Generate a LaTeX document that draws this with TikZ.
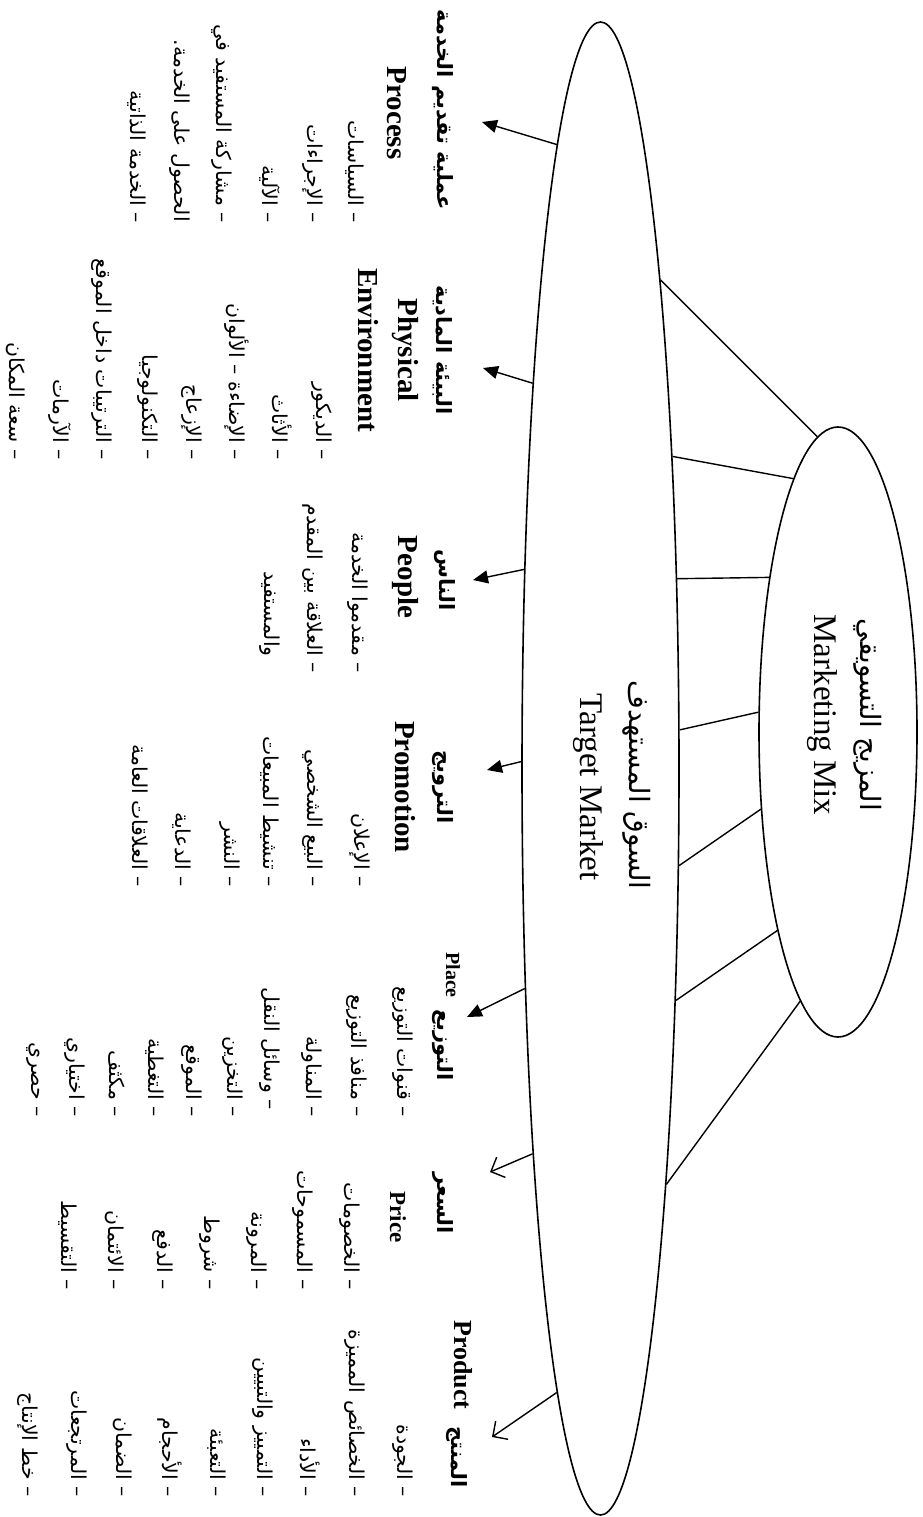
\documentclass[tikz,border=0pt]{standalone}
\usepackage{fontspec}
\setmainfont{Liberation Serif}
\newfontfamily\arabicfont[Script=Arabic]{DejaVu Sans}
\usetikzlibrary{shapes.geometric,arrows.meta}
\TeXXeTstate=1
\newcommand\itemfont{\arabicfont\fontsize{20.5}{24}\selectfont}
\newcommand\headfont{\arabicfont\bfseries\fontsize{21}{25}\selectfont}
\newcommand\ehfont{\bfseries\fontsize{29}{33}\selectfont}
\newcommand\cenfont{\fontsize{33}{38}\selectfont}
\newcommand\cenar{\arabicfont\fontsize{28}{32}\selectfont}
\tikzset{
  ell/.style={draw, ellipse, line width=1.6pt, inner sep=0pt},
  con/.style={line width=1.4pt},
  arrF/.style={line width=1.4pt, -{Triangle[length=15pt,width=13pt]}},
  arrO/.style={line width=1.4pt, -{Straight Barb[length=11pt,width=22pt]}},
  rt/.style={rotate=-90, inner sep=0pt},
  item/.style={rt, anchor=east, font=\itemfont},
  head/.style={rt, font=\headfont},
  ehead/.style={rt, font=\ehfont},
}
\begin{document}
\begin{tikzpicture}[x=1pt,y=-1pt]
\useasboundingbox (0,0) rectangle (923,1517);
% ellipses
\node[ell, minimum width=157pt, minimum height=1493pt] (tm) at (600.5,768.5) {};
\node[ell, minimum width=158pt, minimum height=610pt] (mm) at (838,732) {};
\node[rt, font=\cenar] (tmA) at (637,785) {\beginR السوق المستهدف\endR};
\node[rt, font=\cenfont] (tmE) at (588,787) {Target Market};
\node[rt, font=\cenar] (mmA) at (868,715) {\beginR المزيج التسويقي\endR};
\node[rt, font=\cenfont] (mmE) at (822,715) {Marketing Mix};
% connectors between ellipses
\draw[con] (tm.83.02) -- (mm.94.3);
\draw[con] (tm.77.98) -- (mm.100.01);
\draw[con] (tm.68.16) -- (mm.114.07);
\draw[con] (tm.26.15) -- (mm.166.45);
\draw[con] (tm.-51.69) -- (mm.-135.19);
\draw[con] (tm.-72.68) -- (mm.-107.59);
\draw[con] (tm.-81.11) -- (mm.-98.01);
% arrow tips
\coordinate (tProc) at (482,122);
\coordinate (tPhys) at (483,368);
\coordinate (tPeop) at (473,580);
\coordinate (tProm) at (487,770);
\coordinate (tPlac) at (467,1017);
\coordinate (tPric) at (490,1172);
\coordinate (tProd) at (492,1437);
\draw[arrF] (tm.94.69) -- (tProc);
\draw[arrF] (tm.100.03) -- (tPhys);
\draw[arrF] (tm.111.95) -- (tPeop);
\draw[arrF] (tm.175.99) -- (tProm);
\draw[arrF] (tm.-109.78) -- (tPlac);
\draw[arrO] (tm.-100.64) -- (tPric);
\draw[arrO] (tm.-94.84) -- (tProd);
% Process
\node[head] (hProc) at (443,110) {\beginR عملية تقديم الخدمة\endR};
\node[ehead] (eProc) at (397,113) {Process};
\node[item] (pr1) at (355,223) {\beginR – السياسات\endR};
\node[item] (pr2) at (313,223) {\beginR – الإجراءات\endR};
\node[item] (pr3) at (270,223) {\beginR – الآلية\endR};
\node[item] (pr4) at (222,223) {\beginR – مشاركة المستفيد في\endR};
\node[item] (pr5) at (180,222) {\beginR الحصول على الخدمة.\endR};
\node[item] (pr6) at (137,223) {\beginR – الخدمة الذاتية\endR};
% Physical environment
\node[head] (hPhys) at (443,350) {\beginR البيئة المادية\endR};
\node[ehead] (ePhys1) at (405,350) {Physical};
\node[ehead] (ePhys2) at (368,350) {Environment};
\node[item] (ph1) at (322,460) {\beginR – الديكور\endR};
\node[item] (ph2) at (282,460) {\beginR – الأثاث\endR};
\node[item] (ph3) at (237,460) {\beginR – الإضاءة – الألوان\endR};
\node[item] (ph4) at (192,460) {\beginR – الإزعاج\endR};
\node[item] (ph5) at (148,460) {\beginR – التكنولوجيا\endR};
\node[item] (ph6) at (102,460) {\beginR – الترتيبات داخل الموقع\endR};
\node[item] (ph7) at (60,460) {\beginR – الآرمات\endR};
\node[item] (ph8) at (16,460) {\beginR – سعة المكان\endR};
% People
\node[head] (hPeop) at (445,580) {\beginR الناس\endR};
\node[ehead] (ePeop) at (405,577) {People};
\node[item] (pe1) at (358,673) {\beginR – مقدموا الخدمة\endR};
\node[item] (pe2) at (313,673) {\beginR – العلاقة بين المقدم\endR};
\node[item] (pe3) at (270,657) {\beginR والمستفيد\endR};
% Promotion
\node[head] (hProm) at (443,787) {\beginR الترويج\endR};
\node[ehead] (eProm) at (405,787) {Promotion};
\node[item] (po1) at (360,887) {\beginR – الإعلان\endR};
\node[item] (po2) at (313,887) {\beginR – البيع الشخصي\endR};
\node[item] (po3) at (270,887) {\beginR – تنشيط المبيعات\endR};
\node[item] (po4) at (230,887) {\beginR – النشر\endR};
\node[item] (po5) at (182,887) {\beginR – الدعاية\endR};
\node[item] (po6) at (140,887) {\beginR – العلاقات العامة\endR};
% Place
\node[head] (hPlac) at (443,1045) {\beginR التوزيع\endR};
\node[rt, font=\bfseries\fontsize{20}{24}\selectfont] (ePlac) at (453,975) {Place};
\node[item] (pl1) at (403,1117) {\beginR – قنوات التوزيع\endR};
\node[item] (pl2) at (357,1117) {\beginR – منافذ التوزيع\endR};
\node[item] (pl3) at (312,1117) {\beginR – المناولة\endR};
\node[item] (pl4) at (270,1110) {\beginR – وسائل النقل\endR};
\node[item] (pl5) at (233,1117) {\beginR – التخزين\endR};
\node[item] (pl6) at (192,1117) {\beginR – الموقع\endR};
\node[item] (pl7) at (155,1117) {\beginR – التغطية\endR};
\node[item] (pl8) at (117,1117) {\beginR – مكثف\endR};
\node[item] (pl9) at (75,1117) {\beginR – اختياري\endR};
\node[item] (pl10) at (33,1117) {\beginR – حصري\endR};
% Price
\node[head] (hPric) at (443,1203) {\beginR السعر\endR};
\node[rt, font=\bfseries\fontsize{23}{27}\selectfont] (ePric) at (398,1217) {Price};
\node[item] (pc1) at (350,1290) {\beginR – الخصومات\endR};
\node[item] (pc2) at (303,1290) {\beginR – المسموحات\endR};
\node[item] (pc3) at (257,1290) {\beginR – المرونة\endR};
\node[item] (pc4) at (210,1290) {\beginR – شروط\endR};
\node[item] (pc5) at (163,1290) {\beginR – الدفع\endR};
\node[item] (pc6) at (115,1290) {\beginR – الائتمان\endR};
\node[item] (pc7) at (68,1290) {\beginR – التقسيط\endR};
% Product
\node[head] (hProd) at (457,1457) {\beginR المنتج\endR};
\node[rt, font=\bfseries\fontsize{26}{30}\selectfont] (eProd) at (463,1365) {Product};
\node[item] (pd1) at (403,1497) {\beginR – الجودة\endR};
\node[item] (pd2) at (355,1497) {\beginR – الخصائص المميزة\endR};
\node[item] (pd3) at (310,1497) {\beginR – الأداء\endR};
\node[item] (pd4) at (263,1497) {\beginR – التمييز والتبيين\endR};
\node[item] (pd5) at (217,1497) {\beginR – التعبئة\endR};
\node[item] (pd6) at (170,1497) {\beginR – الأحجام\endR};
\node[item] (pd7) at (123,1497) {\beginR – الضمان\endR};
\node[item] (pd8) at (77,1497) {\beginR – المرتجعات\endR};
\node[item] (pd9) at (28,1497) {\beginR – خط الإنتاج\endR};
\end{tikzpicture}
\end{document}
